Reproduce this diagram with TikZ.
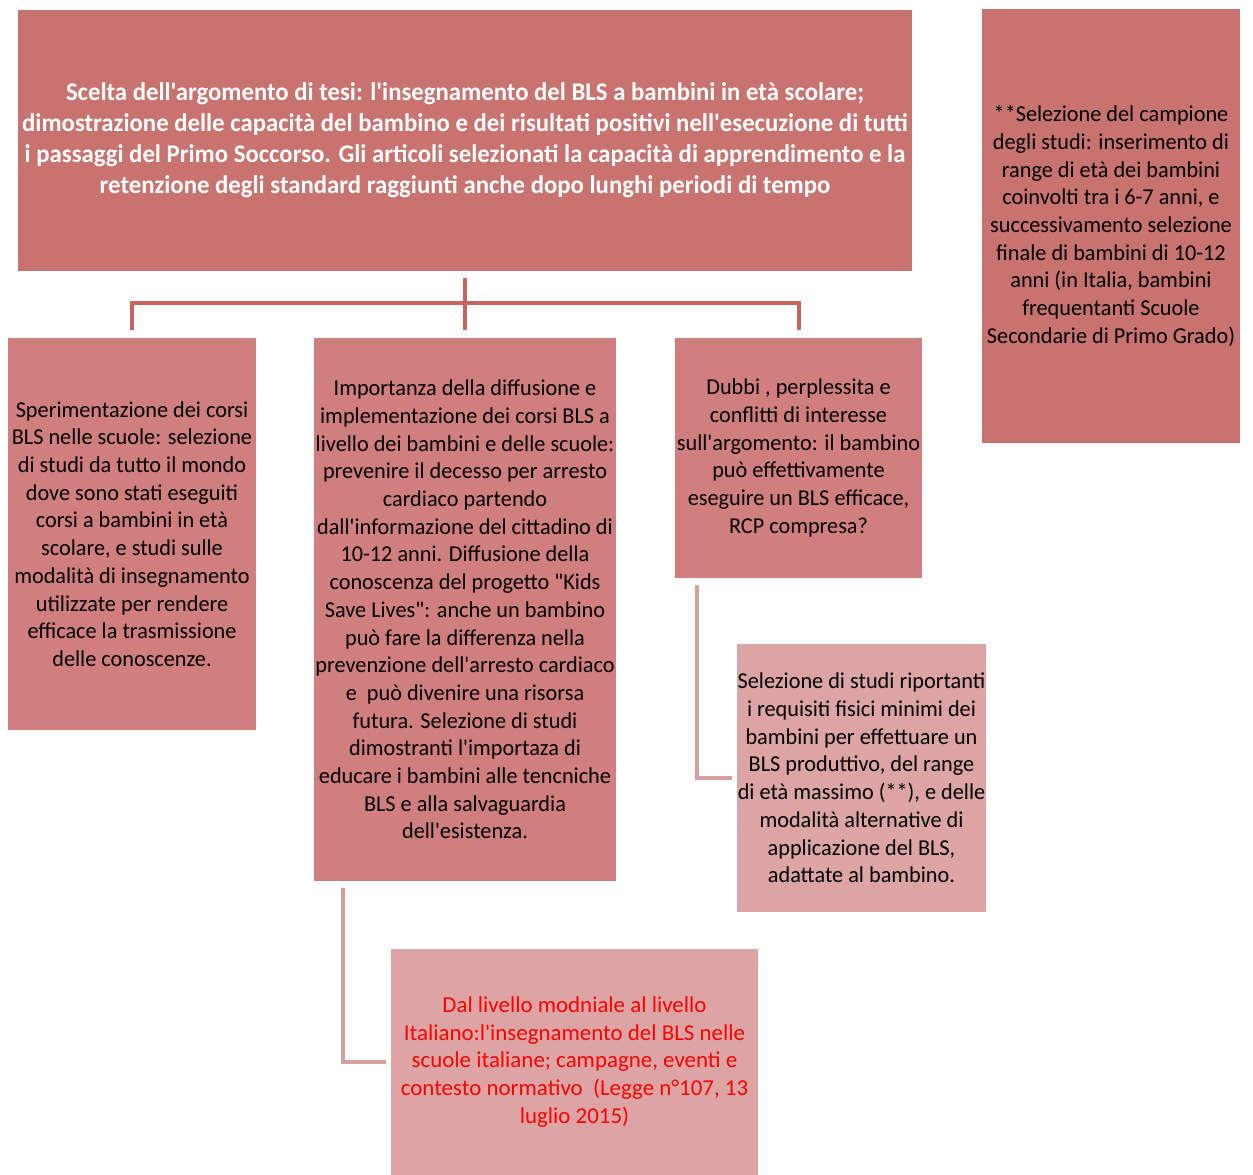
\documentclass[tikz,border=0pt]{standalone}
\usepackage{fontspec}
\newfontfamily\calf[FakeStretch=0.98,Ligatures=TeXOff]{Carlito}
\newfontfamily\calb[FakeStretch=0.975,Ligatures=TeXOff]{Carlito}
\newfontfamily\calw[FakeStretch=1.01,Ligatures=TeXOff]{Carlito}
\definecolor{boxA}{HTML}{C8736F}
\definecolor{boxB}{HTML}{D17F7E}
\definecolor{boxC}{HTML}{DCA4A4}
\definecolor{lnA}{HTML}{C4655F}
\definecolor{lnB}{HTML}{D7A0A0}
\begin{document}
\begin{tikzpicture}[x=1pt,y=-1pt,
  box/.style={draw=none,inner sep=0pt,align=center,font=\calf\fontsize{22.7}{27.7}\selectfont},
  treeline/.style={draw=lnA,line width=4pt},
  subline/.style={draw=lnB,line width=4pt}]
\useasboundingbox (0,0) rectangle (1253,1175);
\fill[white] (0,0) rectangle (1253,1175);
\node[box,fill=boxA,minimum width=894pt,minimum height=261pt,text=white,
  font=\calb\bfseries\fontsize{25.4}{31}\selectfont] (top) at (465,140.5)
 {Scelta dell'argomento di tesi: l'insegnamento del BLS a bambini in età scolare;\\
  dimostrazione delle capacità del bambino e dei risultati positivi nell'esecuzione di tutti\\
  i passaggi del Primo Soccorso. Gli articoli selezionati la capacità di apprendimento e la\\
  retenzione degli standard raggiunti anche dopo lunghi periodi di tempo};
\node[box,fill=boxA,minimum width=258pt,minimum height=434pt] (camp) at (1111,226)
 {**Selezione del campione\\ degli studi: inserimento di\\ range di età dei bambini\\
  coinvolti tra i 6-7 anni, e\\ successivamento selezione\\ finale di bambini di 10-12\\
  anni (in Italia, bambini\\ frequentanti Scuole\\ Secondarie di Primo Grado)};
\node[box,fill=boxB,minimum width=248pt,minimum height=392pt] (left) at (132,534)
 {Sperimentazione dei corsi\\ BLS nelle scuole: selezione\\ di studi da tutto il mondo\\
  dove sono stati eseguiti\\ corsi a bambini in età\\ scolare, e studi sulle\\
  modalità di insegnamento\\ utilizzate per rendere\\ efficace la trasmissione\\
  delle conoscenze.};
\node[box,fill=boxB,minimum width=302pt,minimum height=543pt] (mid) at (465,609.5)
 {Importanza della diffusione e\\ implementazione dei corsi BLS a\\
  livello dei bambini e delle scuole:\\ prevenire il decesso per arresto\\
  cardiaco partendo\\ dall'informazione del cittadino di\\ 10-12 anni. Diffusione della\\
  conoscenza del progetto "Kids\\ Save Lives": anche un bambino\\ può fare la differenza nella\\
  prevenzione dell'arresto cardiaco\\ e\ \ può divenire una risorsa\\ futura. Selezione di studi\\
  dimostranti l'importaza di\\ educare i bambini alle tencniche\\ BLS e alla salvaguardia\\
  dell'esistenza.};
\node[box,fill=boxB,minimum width=247pt,minimum height=240pt] (dubbi) at (798.5,458)
 {Dubbi , perplessita e\\ conflitti di interesse\\ sull'argomento: il bambino\\
  può effettivamente\\ eseguire un BLS efficace,\\ RCP compresa?};
\node[box,fill=boxC,minimum width=249pt,minimum height=268pt] (req) at (861.5,778)
 {Selezione di studi riportanti\\ i requisiti fisici minimi dei\\ bambini per effettuare un\\
  BLS produttivo, del range\\ di età massimo (**), e delle\\ modalità alternative di\\
  applicazione del BLS,\\ adattate al bambino.};
\node[box,fill=boxC,minimum width=367pt,minimum height=226pt,text=red,
  font=\calw\fontsize{22.7}{27.7}\selectfont] (ita) at (574.5,1062)
 {Dal livello modniale al livello\\ Italiano:l'insegnamento del BLS nelle\\
  scuole italiane; campagne, eventi e\\ contesto normativo\ \ (Legge n°107, 13\\ luglio 2015)};
% tree connectors
\draw[treeline] ([yshift=-7pt]top.south) -- ([yshift=8pt]mid.north);
\draw[treeline] ([yshift=8pt]left.north) -- ([yshift=35pt]left.north) -| ([yshift=8pt]dubbi.north);
% sub connectors
\draw[subline] ([xshift=29pt,yshift=-7pt]mid.south west) |- ([xshift=-5pt]ita.west);
\draw[subline] ([xshift=22pt,yshift=-7pt]dubbi.south west) |- ([xshift=-5pt]req.west);
\end{tikzpicture}
\end{document}
